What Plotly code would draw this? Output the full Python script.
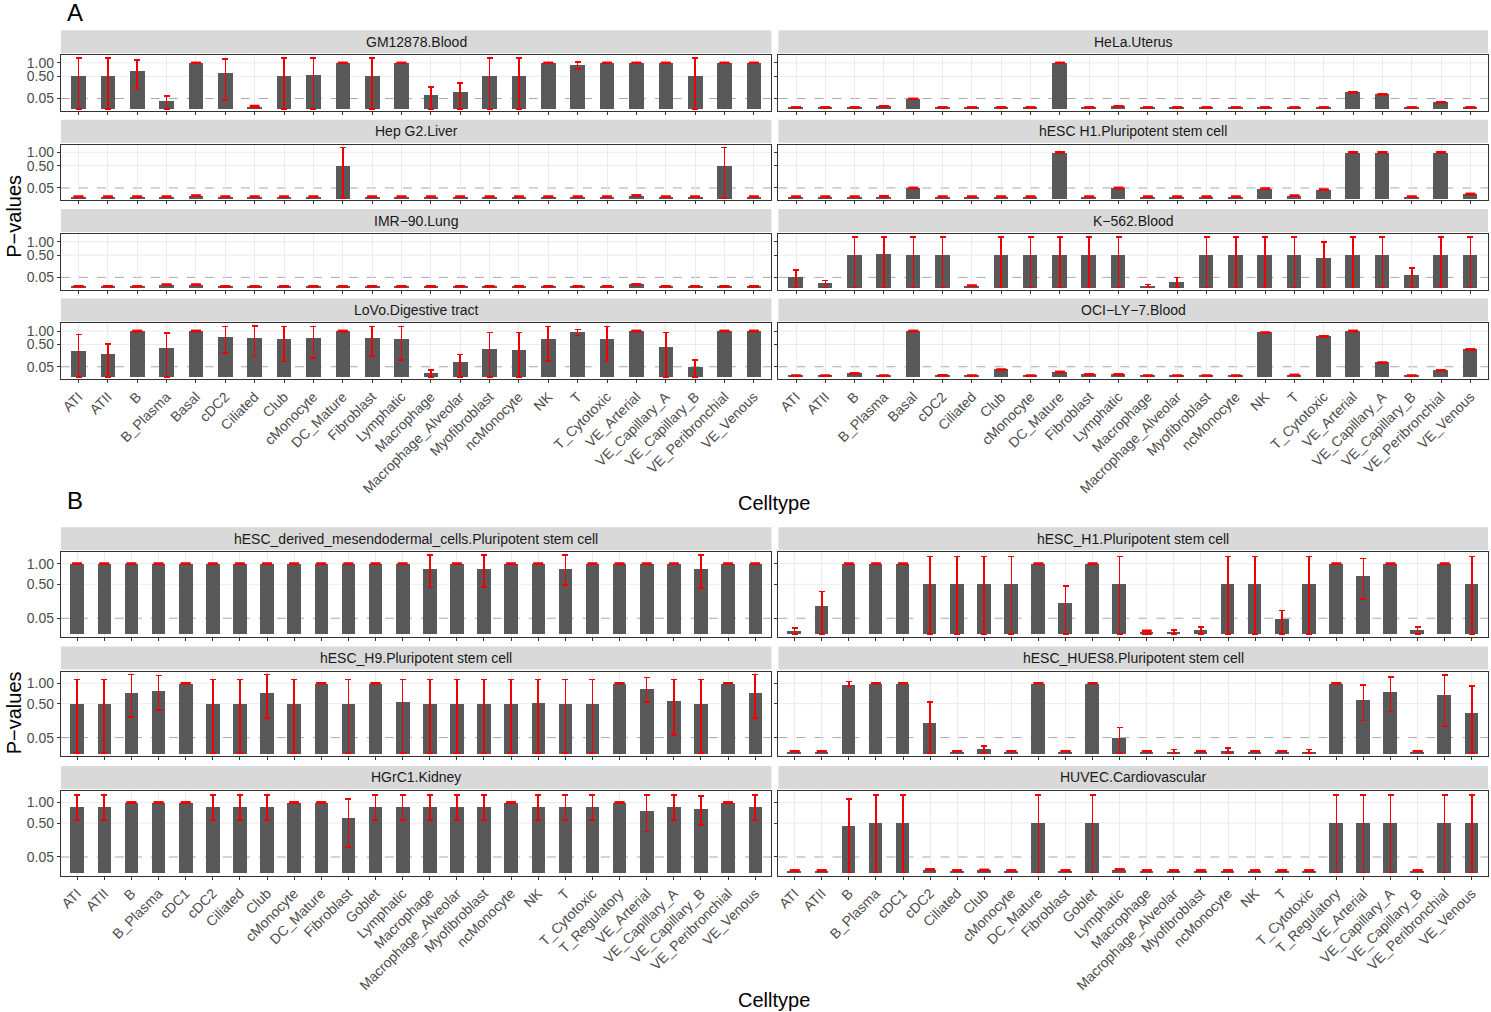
import numpy as np
import plotly.graph_objects as go

# ---------------- categories ----------------
CELLTYPES_A = ["ATI", "ATII", "B", "B_Plasma", "Basal", "cDC2", "Ciliated", "Club", "cMonocyte",
               "DC_Mature", "Fibroblast", "Lymphatic", "Macrophage", "Macrophage_Alveolar",
               "Myofibroblast", "ncMonocyte", "NK", "T", "T_Cytotoxic", "VE_Arterial",
               "VE_Capillary_A", "VE_Capillary_B", "VE_Peribronchial", "VE_Venous"]
CELLTYPES_B = ["ATI", "ATII", "B", "B_Plasma", "cDC1", "cDC2", "Ciliated", "Club", "cMonocyte",
               "DC_Mature", "Fibroblast", "Goblet", "Lymphatic", "Macrophage", "Macrophage_Alveolar",
               "Myofibroblast", "ncMonocyte", "NK", "T", "T_Cytotoxic", "T_Regulatory", "VE_Arterial",
               "VE_Capillary_A", "VE_Capillary_B", "VE_Peribronchial", "VE_Venous"]

Y_TICKS = [0.05, 0.50, 1.00]
Y_TICK_LABELS = ["0.05", "0.50", "1.00"]
P_THRESHOLD = 0.05

# ---------------- panel A ----------------
GM12878_P = [0.50, 0.50, 0.66, 0.03, 1.00, 0.60, 0.002, 0.50, 0.53, 1.00, 0.50, 1.00, 0.088, 0.13,
             0.50, 0.50, 1.00, 0.89, 1.00, 1.00, 1.00, 0.50, 1.00, 1.00]
GM12878_LO = [0, 0, 0.18, 0, 1.00, 0.038, 0.001, 0, 0, 1.00, 0, 1.00, 0, 0,
              0, 0, 1.00, 0.76, 1.00, 1.00, 1.00, 0, 1.00, 1.00]
GM12878_HI = [1.21, 1.21, 1.13, 0.08, 1.00, 1.18, 0.004, 1.21, 1.21, 1.00, 1.21, 1.00, 0.22, 0.31,
              1.21, 1.21, 1.00, 1.04, 1.00, 1.00, 1.00, 1.21, 1.00, 1.00]

HELA_P = [0.001, 0.001, 0.001, 0.003, 0.047, 0.001, 0.001, 0.001, 0.001, 1.00, 0.001, 0.003,
          0.001, 0.001, 0.001, 0.001, 0.001, 0.001, 0.001, 0.13, 0.10, 0.001, 0.021, 0.001]

HEPG2_P = [0.001, 0.001, 0.001, 0.001, 0.003, 0.001, 0.001, 0.001, 0.001, 0.50, 0.001, 0.001,
           0.001, 0.001, 0.001, 0.001, 0.001, 0.001, 0.001, 0.004, 0.001, 0.001, 0.50, 0.001]
HEPG2_LO = [0.001, 0.001, 0.001, 0.001, 0.003, 0.001, 0.001, 0.001, 0.001, 0, 0.001, 0.001,
            0.001, 0.001, 0.001, 0.001, 0.001, 0.001, 0.001, 0.004, 0.001, 0.001, 0, 0.001]
HEPG2_HI = [0.001, 0.001, 0.001, 0.001, 0.003, 0.001, 0.001, 0.001, 0.001, 1.21, 0.001, 0.001,
            0.001, 0.001, 0.001, 0.001, 0.001, 0.001, 0.001, 0.004, 0.001, 0.001, 1.21, 0.001]

H1A_P = [0.001, 0.001, 0.001, 0.002, 0.049, 0.001, 0.001, 0.001, 0.001, 1.00, 0.001, 0.05,
         0.001, 0.001, 0.001, 0.001, 0.043, 0.003, 0.034, 1.00, 1.00, 0.001, 1.00, 0.0086]

IMR90_P = [0.001, 0.001, 0.001, 0.004, 0.004, 0.001, 0.001, 0.001, 0.001, 0.001, 0.001, 0.001,
           0.001, 0.001, 0.001, 0.001, 0.001, 0.001, 0.001, 0.005, 0.001, 0.001, 0.001, 0.001]

K562_P = [0.057, 0.009, 0.50, 0.536, 0.50, 0.50, 0.002, 0.50, 0.50, 0.50, 0.50, 0.50,
          0.002, 0.017, 0.50, 0.50, 0.50, 0.50, 0.40, 0.50, 0.50, 0.076, 0.50, 0.50]
K562_LO = [0, 0, 0, 0, 0, 0, 0.002, 0, 0, 0, 0, 0,
           0, 0, 0, 0, 0, 0, 0, 0, 0, 0, 0, 0]
K562_HI = [0.147, 0.025, 1.21, 1.21, 1.21, 1.21, 0.002, 1.21, 1.21, 1.21, 1.21, 1.21,
           0.005, 0.05, 1.21, 1.21, 1.21, 1.21, 0.985, 1.21, 1.21, 0.183, 1.21, 1.21]

LOVO_P = [0.316, 0.232, 1.00, 0.376, 1.00, 0.73, 0.70, 0.668, 0.69, 1.00, 0.70, 0.68,
          0.0077, 0.094, 0.35, 0.34, 0.656, 0.93, 0.68, 1.00, 0.40, 0.048, 1.00, 1.00]
LOVO_LO = [0, 0, 1.00, 0, 1.00, 0.276, 0.198, 0.113, 0.167, 1.00, 0.21, 0.133,
           0, 0, 0, 0, 0.118, 0.82, 0.113, 1.00, 0, 0, 1.00, 1.00]
LOVO_HI = [0.86, 0.52, 1.00, 0.93, 1.00, 1.20, 1.22, 1.21, 1.21, 1.00, 1.20, 1.21,
           0.023, 0.239, 0.94, 0.94, 1.20, 1.07, 1.21, 1.00, 0.94, 0.133, 1.00, 1.00]

OCI_P = [0.001, 0.001, 0.0064, 0.001, 1.00, 0.0015, 0.001, 0.025, 0.001, 0.012, 0.003, 0.003,
         0.001, 0.001, 0.001, 0.001, 0.93, 0.002, 0.79, 1.00, 0.097, 0.001, 0.021, 0.36]

# ---------------- panel B ----------------
MESEN_P = [1.00, 1.00, 1.00, 1.00, 1.00, 1.00, 1.00, 1.00, 1.00, 1.00, 1.00, 1.00, 1.00,
           0.85, 1.00, 0.85, 1.00, 1.00, 0.86, 1.00, 1.00, 1.00, 1.00, 0.84, 1.00, 1.00]
MESEN_LO = [1.00, 1.00, 1.00, 1.00, 1.00, 1.00, 1.00, 1.00, 1.00, 1.00, 1.00, 1.00, 1.00,
            0.44, 1.00, 0.45, 1.00, 1.00, 0.48, 1.00, 1.00, 1.00, 1.00, 0.43, 1.00, 1.00]
MESEN_HI = [1.00, 1.00, 1.00, 1.00, 1.00, 1.00, 1.00, 1.00, 1.00, 1.00, 1.00, 1.00, 1.00,
            1.27, 1.00, 1.26, 1.00, 1.00, 1.26, 1.00, 1.00, 1.00, 1.00, 1.27, 1.00, 1.00]

H1B_P = [0.002, 0.152, 1.00, 1.00, 1.00, 0.50, 0.50, 0.50, 0.50, 1.00, 0.188, 1.00, 0.50,
         0.001, 0.001, 0.0027, 0.50, 0.50, 0.044, 0.50, 1.00, 0.687, 1.00, 0.0027, 1.00, 0.50]
H1B_LO = [0, 0, 1.00, 1.00, 1.00, 0, 0, 0, 0, 1.00, 0, 1.00, 0,
          0, 0, 0, 0, 0, 0, 0, 1.00, 0.245, 1.00, 0, 1.00, 0]
H1B_HI = [0.007, 0.366, 1.00, 1.00, 1.00, 1.22, 1.22, 1.22, 1.22, 1.00, 0.464, 1.00, 1.22,
          0.002, 0.0033, 0.009, 1.22, 1.22, 0.111, 1.22, 1.00, 1.15, 1.00, 0.009, 1.00, 1.22]

H9_P = [0.50, 0.50, 0.76, 0.80, 1.00, 0.50, 0.50, 0.75, 0.50, 1.00, 0.50, 1.00, 0.538,
        0.50, 0.50, 0.50, 0.50, 0.53, 0.50, 0.50, 1.00, 0.854, 0.573, 0.50, 1.00, 0.75]
H9_LO = [0, 0, 0.265, 0.383, 1.00, 0, 0, 0.255, 0, 1.00, 0, 1.00, 0,
         0, 0, 0, 0, 0, 0, 0, 1.00, 0.54, 0.066, 0, 1.00, 0.255]
H9_HI = [1.10, 1.10, 1.26, 1.23, 1.00, 1.10, 1.10, 1.26, 1.10, 1.00, 1.10, 1.00, 1.10,
         1.10, 1.10, 1.10, 1.10, 1.10, 1.10, 1.10, 1.00, 1.17, 1.10, 1.10, 1.00, 1.26]

HUES8_P = [0.001, 0.001, 0.95, 1.00, 1.00, 0.192, 0.001, 0.004, 0.001, 1.00, 0.001, 1.00, 0.05,
           0.001, 0.001, 0.001, 0.0015, 0.001, 0.001, 0.001, 1.00, 0.588, 0.768, 0.001, 0.694, 0.343]
HUES8_LO = [0.001, 0.001, 0.907, 1.00, 1.00, 0, 0.001, 0, 0.001, 1.00, 0.001, 1.00, 0,
            0.001, 0, 0.001, 0, 0.001, 0.001, 0, 1.00, 0.218, 0.354, 0.001, 0.152, 0]
HUES8_HI = [0.001, 0.001, 1.05, 1.00, 1.00, 0.53, 0.001, 0.01, 0.001, 1.00, 0.001, 1.00, 0.134,
            0.001, 0.003, 0.001, 0.006, 0.001, 0.001, 0.003, 1.00, 0.953, 1.19, 0.001, 1.24, 0.925]

HGRC1_P = [0.889, 0.889, 1.00, 1.00, 1.00, 0.889, 0.889, 0.889, 1.00, 1.00, 0.60, 0.889, 0.889,
           0.889, 0.889, 0.889, 1.00, 0.889, 0.889, 0.889, 1.00, 0.776, 0.889, 0.818, 1.00, 0.889]
HGRC1_LO = [0.566, 0.566, 1.00, 1.00, 1.00, 0.566, 0.566, 0.566, 1.00, 1.00, 0.135, 0.566, 0.566,
            0.566, 0.566, 0.566, 1.00, 0.566, 0.566, 0.566, 1.00, 0.343, 0.566, 0.464, 1.00, 0.566]
HGRC1_HI = [1.23, 1.23, 1.00, 1.00, 1.00, 1.23, 1.23, 1.23, 1.00, 1.00, 1.10, 1.23, 1.23,
            1.23, 1.23, 1.23, 1.00, 1.23, 1.23, 1.23, 1.00, 1.23, 1.23, 1.20, 1.00, 1.23]

HUVEC_P = [0.001, 0.001, 0.45, 0.50, 0.50, 0.002, 0.001, 0.0015, 0.001, 0.50, 0.001, 0.50, 0.002,
           0.001, 0.001, 0.001, 0.001, 0.001, 0.001, 0.001, 0.50, 0.50, 0.50, 0.001, 0.50, 0.50]
HUVEC_LO = [0.001, 0.001, 0, 0, 0, 0.002, 0.001, 0.0015, 0.001, 0, 0.001, 0, 0.002,
            0.001, 0.001, 0.001, 0.001, 0.001, 0.001, 0.001, 0, 0, 0, 0.001, 0, 0]
HUVEC_HI = [0.001, 0.001, 1.10, 1.23, 1.23, 0.002, 0.001, 0.0015, 0.001, 1.23, 0.001, 1.23, 0.002,
            0.001, 0.001, 0.001, 0.001, 0.001, 0.001, 0.001, 1.23, 1.23, 1.23, 0.001, 1.23, 1.23]

# (title, categories, p, lo, hi, panel, row, col)
FACETS = [
    ("GM12878.Blood", CELLTYPES_A, GM12878_P, GM12878_LO, GM12878_HI, "A", 0, 0),
    ("HeLa.Uterus", CELLTYPES_A, HELA_P, HELA_P, HELA_P, "A", 0, 1),
    ("Hep G2.Liver", CELLTYPES_A, HEPG2_P, HEPG2_LO, HEPG2_HI, "A", 1, 0),
    ("hESC H1.Pluripotent stem cell", CELLTYPES_A, H1A_P, H1A_P, H1A_P, "A", 1, 1),
    ("IMR\u221290.Lung", CELLTYPES_A, IMR90_P, IMR90_P, IMR90_P, "A", 2, 0),
    ("K\u2212562.Blood", CELLTYPES_A, K562_P, K562_LO, K562_HI, "A", 2, 1),
    ("LoVo.Digestive tract", CELLTYPES_A, LOVO_P, LOVO_LO, LOVO_HI, "A", 3, 0),
    ("OCI\u2212LY\u22127.Blood", CELLTYPES_A, OCI_P, OCI_P, OCI_P, "A", 3, 1),
    ("hESC_derived_mesendodermal_cells.Pluripotent stem cell", CELLTYPES_B, MESEN_P, MESEN_LO, MESEN_HI, "B", 0, 0),
    ("hESC_H1.Pluripotent stem cell", CELLTYPES_B, H1B_P, H1B_LO, H1B_HI, "B", 0, 1),
    ("hESC_H9.Pluripotent stem cell", CELLTYPES_B, H9_P, H9_LO, H9_HI, "B", 1, 0),
    ("hESC_HUES8.Pluripotent stem cell", CELLTYPES_B, HUES8_P, HUES8_LO, HUES8_HI, "B", 1, 1),
    ("HGrC1.Kidney", CELLTYPES_B, HGRC1_P, HGRC1_LO, HGRC1_HI, "B", 2, 0),
    ("HUVEC.Cardiovascular", CELLTYPES_B, HUVEC_P, HUVEC_LO, HUVEC_HI, "B", 2, 1),
]

# ---------------- layout geometry (pixels) ----------------
W, H = 1491, 1012
FONT = "Liberation Sans, Arial, Helvetica, sans-serif"
COLS = [(58, 770), (777, 1488)]
PANEL = {
    "A": dict(tops=[54.3, 143.8, 233.3, 322.8], h=55.7, nrows=4),
    "B": dict(tops=[551.7, 671.2, 790.7], h=85.0, nrows=3),
}
Y_RANGE = [-0.045, 1.165]
RED = "#F00000"
GRID = "#EBEBEB"
SHORT_ERR = 0.05  # error spans shorter than this (sqrt units) collapse to a single red cap


def fx(x):
    return x / W


def fy(y):
    return 1 - y / H


fig = go.Figure()
layout = dict(
    width=W, height=H,
    margin=dict(l=0, r=0, t=0, b=0),
    paper_bgcolor="white", plot_bgcolor="white",
    showlegend=False, bargap=0,
    font=dict(family=FONT, color="#1A1A1A"),
)
shapes = []
annotations = []

for k, (title, cats, p, lo, hi, panel, row, col) in enumerate(FACETS, start=1):
    sfx = "" if k == 1 else str(k)
    g = PANEL[panel]
    top = g["tops"][row]
    bot = top + g["h"]
    x0, x1 = COLS[col]
    p_arr = np.array(p, dtype=float)
    s = np.sqrt(p_arr)
    s_hi = np.sqrt(np.array(hi, dtype=float))
    s_lo = np.sqrt(np.array(lo, dtype=float))

    fig.add_trace(go.Bar(
        x=cats, y=s, xaxis="x" + sfx, yaxis="y" + sfx, width=0.5,
        marker=dict(color="#595959", line=dict(width=0)),
        error_y=dict(type="data", symmetric=False,
                     array=s_hi - s, arrayminus=s - s_lo,
                     color=RED, thickness=1.6, width=3),
        customdata=p_arr, hovertemplate="%{x}: %{customdata}<extra></extra>",
    ))
    # collapsed (near zero-length) error bars: ggplot still draws the red caps
    short = (s_hi - s_lo) < SHORT_ERR
    cx = [c for c, f in zip(cats, short) if f]
    cy_hi = s_hi[short]
    cy_lo = s_lo[short]
    fig.add_trace(go.Scatter(
        x=cx + cx, y=np.concatenate([cy_hi, cy_lo]), xaxis="x" + sfx, yaxis="y" + sfx,
        mode="markers", hoverinfo="skip",
        marker=dict(symbol="line-ew", size=7, color=RED, line=dict(color=RED, width=2.4)),
    ))
    segx, segy = [], []
    for c, a, b in zip(cx, cy_lo, cy_hi):
        segx += [c, c, None]
        segy += [a, b, None]
    fig.add_trace(go.Scatter(
        x=segx, y=segy, xaxis="x" + sfx, yaxis="y" + sfx, mode="lines",
        hoverinfo="skip", line=dict(color=RED, width=1.6),
    ))

    bottom_row = row == g["nrows"] - 1
    layout["xaxis" + sfx] = dict(
        domain=[fx(x0), fx(x1)], anchor="y" + sfx, type="category",
        categoryorder="array", categoryarray=cats, range=[-0.6, len(cats) - 0.4],
        showgrid=True, gridcolor=GRID, gridwidth=1,
        showline=True, linecolor="#333333", linewidth=1, mirror=True,
        ticks="outside", ticklen=3, tickcolor="#333333", tickwidth=1,
        showticklabels=bottom_row, tickangle=-45,
        tickfont=dict(family=FONT, size=14, color="#4D4D4D"),
        fixedrange=True,
    )
    layout["yaxis" + sfx] = dict(
        domain=[fy(bot), fy(top)], anchor="x" + sfx, range=Y_RANGE,
        tickvals=list(np.sqrt(Y_TICKS)), ticktext=Y_TICK_LABELS,
        showgrid=False, zeroline=False,
        showline=True, linecolor="#333333", linewidth=1, mirror=True,
        ticks="outside", ticklen=3, tickcolor="#333333", tickwidth=1,
        showticklabels=(col == 0),
        tickfont=dict(family=FONT, size=14, color="#4D4D4D"),
        fixedrange=True,
    )
    # horizontal grid lines (except at the threshold, which carries the dashed line)
    for tv in Y_TICKS:
        if tv == P_THRESHOLD:
            continue
        shapes.append(dict(type="line", xref="x" + sfx + " domain", x0=0, x1=1,
                           yref="y" + sfx, y0=np.sqrt(tv), y1=np.sqrt(tv),
                           line=dict(color=GRID, width=1), layer="below"))
    # dashed reference line at p = 0.05
    shapes.append(dict(type="line", xref="x" + sfx + " domain", x0=0, x1=1,
                       yref="y" + sfx, y0=np.sqrt(P_THRESHOLD), y1=np.sqrt(P_THRESHOLD),
                       line=dict(color="#A8A8A8", width=1, dash="dash"), layer="below"))
    # strip
    shapes.append(dict(type="rect", xref="paper", yref="paper",
                       x0=fx(x0), x1=fx(x1), y0=fy(top - 2), y1=fy(top - 25),
                       fillcolor="#D9D9D9", line=dict(width=0)))
    annotations.append(dict(text=title, xref="paper", yref="paper",
                            x=fx((x0 + x1) / 2), y=fy(top - 13.5),
                            showarrow=False, xanchor="center", yanchor="middle",
                            font=dict(family=FONT, size=14, color="#1A1A1A")))

# panel letters and axis titles
for txt, x, y, size, ang in [
    ("A", 72, 12, 24, 0), ("B", 72, 500, 24, 0),
    ("P\u2212values", 11, 215, 20, -90), ("P\u2212values", 11, 712, 20, -90),
    ("Celltype", 773, 502, 20, 0), ("Celltype", 773, 1000, 20, 0),
]:
    annotations.append(dict(text=txt, xref="paper", yref="paper", x=fx(x), y=fy(y),
                            showarrow=False, xanchor="center", yanchor="middle",
                            textangle=ang, font=dict(family=FONT, size=size, color="black")))

layout["shapes"] = shapes
layout["annotations"] = annotations
fig.update_layout(**layout)
fig.write_html("out.html", config={"displayModeBar": False},
               post_script="document.body.style.margin='0px';document.body.style.overflow='hidden';")
